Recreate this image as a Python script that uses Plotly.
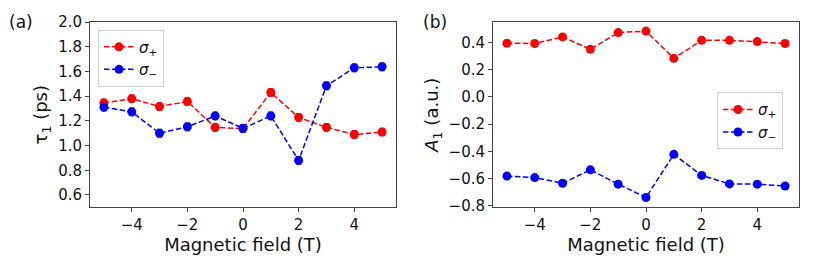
import plotly.graph_objects as go

field = [-5, -4, -3, -2, -1, 0, 1, 2, 3, 4, 5]

tau_plus = [1.345, 1.38, 1.316, 1.357, 1.147, 1.137, 1.43, 1.228, 1.147, 1.09, 1.11]
tau_minus = [1.311, 1.273, 1.10, 1.152, 1.24, 1.14, 1.24, 0.88, 1.484, 1.63, 1.638]
tau_err = [0.03] * 11

amp_plus = [0.395, 0.393, 0.441, 0.35, 0.473, 0.484, 0.284, 0.416, 0.416, 0.407, 0.393]
amp_minus = [-0.581, -0.592, -0.633, -0.535, -0.64, -0.738, -0.421, -0.576, -0.638, -0.64, -0.654]
amp_err = [0.015] * 11

xticks = [-4, -2, 0, 2, 4]
tau_ticks = [0.6, 0.8, 1.0, 1.2, 1.4, 1.6, 1.8, 2.0]
amp_ticks = [-0.8, -0.6, -0.4, -0.2, 0.0, 0.2, 0.4]

RED = "#ff0000"
BLUE = "#0000ff"
FONT = "DejaVu Sans"

W, H = 830, 263
def px_x(p):
    return p / W
def px_y(p):
    return 1 - p / H

fig = go.Figure()

def add(x, y, err, color, name, xa, ya, legend):
    fig.add_trace(go.Scatter(
        x=x, y=y, mode="lines+markers", name=name,
        xaxis=xa, yaxis=ya, legend=legend,
        line=dict(color=color, width=1.5, dash="5.5px,2.5px"),
        marker=dict(color=color, size=9),
        error_y=dict(type="data", array=err, color=color, thickness=1.3, width=2.5),
    ))

add(field, tau_plus, tau_err, RED, "<i>σ</i><sub>+</sub>", "x", "y", "legend")
add(field, tau_minus, tau_err, BLUE, "<i>σ</i><sub>−</sub>", "x", "y", "legend")
add(field, amp_plus, amp_err, RED, "<i>σ</i><sub>+</sub>", "x2", "y2", "legend2")
add(field, amp_minus, amp_err, BLUE, "<i>σ</i><sub>−</sub>", "x2", "y2", "legend2")

axcol = "#444444"
common_x = dict(range=[-5.5, 5.5], tickvals=xticks, ticks="outside", ticklen=4,
                tickcolor=axcol, showline=True, linecolor=axcol, linewidth=1, mirror=True,
                showgrid=False, zeroline=False, tickfont=dict(size=15, color="#111"),
                ticklabeloverflow="allow",
                title=dict(text="Magnetic field (T)", font=dict(size=18, color="#111"), standoff=5))
common_y = dict(ticks="outside", ticklen=4, tickcolor=axcol, showline=True,
                linecolor=axcol, linewidth=1, mirror=True, showgrid=False, zeroline=False,
                tickfont=dict(size=15, color="#111"), tickformat=".1f",
                ticklabeloverflow="allow")

fig.update_layout(
    width=W, height=H,
    margin=dict(l=0, r=0, t=0, b=0),
    paper_bgcolor="white", plot_bgcolor="white",
    font=dict(family=FONT, color="#111"),
    xaxis=dict(domain=[px_x(90), px_x(396)], anchor="y", **common_x),
    yaxis=dict(domain=[px_y(212), px_y(14)], anchor="x", range=[0.5, 2.0],
               tickvals=tau_ticks,
               title=dict(text="τ<sub>1</sub> (ps)", font=dict(size=18), standoff=5),
               **common_y),
    xaxis2=dict(domain=[px_x(493), px_x(799)], anchor="y2", **common_x),
    yaxis2=dict(domain=[px_y(212), px_y(14)], anchor="x2", range=[-0.81, 0.55],
                tickvals=amp_ticks,
                title=dict(text="<i>A</i><sub>1</sub> (a.u.)", font=dict(size=18), standoff=5),
                **common_y),
    legend=dict(x=px_x(98), y=px_y(22), xanchor="left", yanchor="top",
                bgcolor="rgba(255,255,255,0.8)", bordercolor="#d0d0d0", borderwidth=1,
                font=dict(size=15), itemwidth=30, tracegroupgap=0),
    legend2=dict(x=px_x(717), y=px_y(89), xanchor="left", yanchor="top",
                 bgcolor="rgba(255,255,255,0.8)", bordercolor="#d0d0d0", borderwidth=1,
                 font=dict(size=15), itemwidth=30, tracegroupgap=0),
    annotations=[
        dict(text="(a)", x=px_x(7), y=px_y(1), xref="paper", yref="paper",
             xanchor="left", yanchor="top", showarrow=False, font=dict(size=17, color="#111")),
        dict(text="(b)", x=px_x(421), y=px_y(1), xref="paper", yref="paper",
             xanchor="left", yanchor="top", showarrow=False, font=dict(size=17, color="#111")),
    ],
)

fig.write_html(
    "out.html",
    config={"displayModeBar": False},
    post_script="document.body.style.margin='0';document.body.style.overflow='hidden';",
)
